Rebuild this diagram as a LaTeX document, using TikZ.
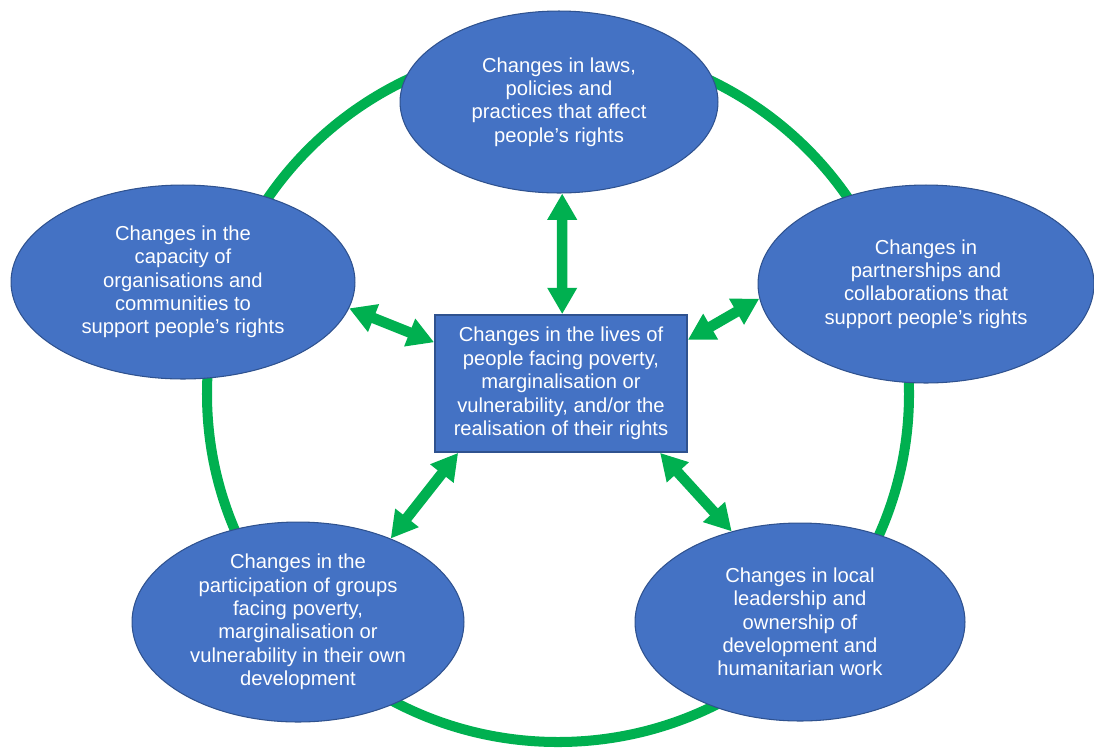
\documentclass[tikz,border=0pt]{standalone}
\usepackage{fontspec}
\setmainfont{Liberation Sans}
\usepackage{tikz}
\usetikzlibrary{shapes.geometric,arrows.meta}
\definecolor{ringgreen}{HTML}{00B050}
\definecolor{boxblue}{HTML}{4472C4}
\definecolor{edgeblue}{HTML}{2F528F}

\begin{document}
\begin{tikzpicture}[x=0.02cm,y=-0.02cm,
  change/.style={ellipse,draw=edgeblue,line width=0.6pt,fill=boxblue,text=white,
    align=center,inner sep=0pt,font=\fontsize{11.5}{13.3}\selectfont},
  centrebox/.style={rectangle,draw=edgeblue,line width=1pt,fill=boxblue,text=white,
    align=center,minimum width=5.04cm,minimum height=2.74cm,
    font=\fontsize{11.5}{13.3}\selectfont},
  link/.style={draw=ringgreen,line width=6pt,
    {Triangle[width=16pt,length=15pt]}-{Triangle[width=16pt,length=15pt]}}]
\useasboundingbox (0,0) rectangle (1094,751);

% the green ring behind everything
\draw[ringgreen,line width=5.7pt] (558,394) ellipse [x radius=351,y radius=-348];

% five outer changes
\node[change,minimum width=6.36cm,minimum height=3.64cm] (laws) at (559,102)
  {Changes in laws,\\policies and\\practices that affect\\people’s rights};
\node[change,minimum width=6.88cm,minimum height=3.88cm] (capacity) at (183,282)
  {Changes in the\\capacity of\\organisations and\\communities to\\support people’s rights};
\node[change,minimum width=6.72cm,minimum height=3.96cm] (partners) at (926,284)
  {Changes in\\partnerships and\\collaborations that\\support people’s rights};
\node[change,minimum width=6.64cm,minimum height=4cm] (participation) at (298,622)
  {Changes in the\\participation of groups\\facing poverty,\\marginalisation or\\vulnerability in their own\\development};
\node[change,minimum width=6.6cm,minimum height=3.96cm] (leadership) at (800,622)
  {Changes in local\\leadership and\\ownership of\\development and\\humanitarian work};

% centre
\node[centrebox] (lives) at (561,383.5)
  {Changes in the lives of\\people facing poverty,\\marginalisation or\\vulnerability, and/or the\\realisation of their rights};

% two-way links
\draw[link] (laws.-88) -- (lives.89);
\draw[link] (capacity.-9) -- (lives.162);
\draw[link] (partners.185) -- (lives.19);
\draw[link] (participation.42) -- (lives.214);
\draw[link] (leadership.127) -- (lives.-35);
\end{tikzpicture}
\end{document}
